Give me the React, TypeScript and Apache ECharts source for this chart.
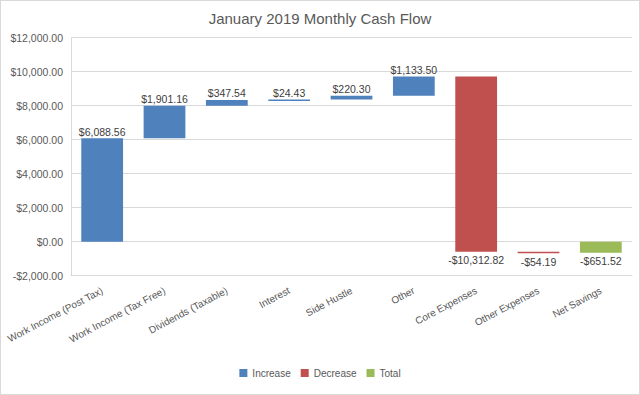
import React, { useEffect, useRef } from "react";
import * as echarts from "echarts";

const categories = [
  "Work Income (Post Tax)",
  "Work Income (Tax Free)",
  "Dividends (Taxable)",
  "Interest",
  "Side Hustle",
  "Other",
  "Core Expenses",
  "Other Expenses",
  "Net Savings",
];
const deltas = [6088.56, 1901.16, 347.54, 24.43, 220.3, 1133.5, -10312.82, -54.19, -651.52];
const kinds = ["Increase", "Increase", "Increase", "Increase", "Increase", "Increase", "Decrease", "Decrease", "Total"];
const seriesNames = ["Increase", "Decrease", "Total"];
const seriesColors = ["#4F81BD", "#C0504D", "#9BBB59"];
const yTicks = { min: -2000, max: 12000, interval: 2000 };

const FONT = "'Liberation Sans', 'Noto Sans', sans-serif";

function fmt(v: number): string {
  const s = Math.abs(v).toLocaleString("en-US", { minimumFractionDigits: 2, maximumFractionDigits: 2 });
  return (v < 0 ? "-" : "") + "$" + s;
}

export default function App() {
  const ref = useRef<HTMLDivElement>(null);
  useEffect(() => {
    if (!ref.current) return;
    const chart = echarts.init(ref.current, null, { renderer: "svg" });

    let run = 0;
    const ranges: { start: number; end: number }[] = [];
    deltas.forEach((d, i) => {
      if (kinds[i] === "Total") {
        ranges.push({ start: 0, end: d });
      } else {
        ranges.push({ start: run, end: run + d });
        run += d;
      }
    });

    const series = seriesNames.map((name, si) => ({
      type: "custom",
      name,
      itemStyle: { color: seriesColors[si] },
      encode: { x: 0, y: [1, 2] },
      data: ranges
        .map((r, i) => ({ r, i }))
        .filter((o) => kinds[o.i] === name)
        .map((o) => [o.i, o.r.start, o.r.end]),
      renderItem: (params: any, api: any) => {
        const x = api.value(0);
        const s = api.value(1);
        const e = api.value(2);
        const p1 = api.coord([x, s]);
        const p2 = api.coord([x, e]);
        const bw = api.size([1, 0])[0] * 0.67;
        const top = Math.min(p1[1], p2[1]);
        let h = Math.abs(p1[1] - p2[1]);
        if (h < 1.5) h = 1.5;
        const up = deltas[x] >= 0;
        return {
          type: "group",
          children: [
            {
              type: "rect",
              shape: { x: p1[0] - bw / 2, y: top, width: bw, height: h },
              style: { fill: seriesColors[si] },
            },
            {
              type: "text",
              x: p1[0],
              y: up ? top - 1 : top + h + 3,
              style: {
                text: fmt(deltas[x]),
                align: "center",
                verticalAlign: up ? "bottom" : "top",
                fill: "#404040",
                fontSize: 10.5,
                fontFamily: FONT,
              },
            },
          ],
        };
      },
    }));

    chart.setOption({
      animation: false,
      title: {
        text: "January 2019 Monthly Cash Flow",
        left: "center",
        top: 6,
        textStyle: { fontSize: 15, fontWeight: "normal", color: "#595959", fontFamily: FONT },
      },
      legend: {
        data: seriesNames,
        bottom: 12,
        left: "center",
        icon: "rect",
        itemWidth: 8,
        itemHeight: 8,
        itemGap: 10,
        textStyle: { fontSize: 10, color: "#595959", fontFamily: FONT },
      },
      grid: { left: 71, right: 8, top: 37.7, bottom: 119.3, containLabel: false },
      xAxis: {
        type: "category",
        data: categories,
        axisLine: { onZero: false, lineStyle: { color: "#D9D9D9" } },
        axisTick: { show: false },
        axisLabel: {
          rotate: 28,
          interval: 0,
          margin: 14,
          fontSize: 10,
          color: "#595959",
          fontFamily: FONT,
        },
      },
      yAxis: {
        type: "value",
        min: yTicks.min,
        max: yTicks.max,
        interval: yTicks.interval,
        axisLine: { show: true, lineStyle: { color: "#D9D9D9" } },
        axisTick: { show: false },
        splitLine: { lineStyle: { color: "#D9D9D9" } },
        axisLabel: {
          formatter: (v: number) => fmt(v),
          fontSize: 10.5,
          color: "#595959",
          margin: 8,
          fontFamily: FONT,
        },
      },
      series,
    });
    return () => chart.dispose();
  }, []);
  return (
    <div
      style={{
        position: "fixed",
        left: 0,
        top: 0,
        width: 640,
        height: 395,
        background: "#fff",
      }}
    >
      <div ref={ref} style={{ position: "absolute", left: 0, top: 0, width: 640, height: 395 }} />
      <div
        style={{
          position: "absolute",
          left: 0,
          top: 0,
          width: 640,
          height: 395,
          boxSizing: "border-box",
          border: "1px solid #D9D9D9",
          pointerEvents: "none",
        }}
      />
    </div>
  );
}
